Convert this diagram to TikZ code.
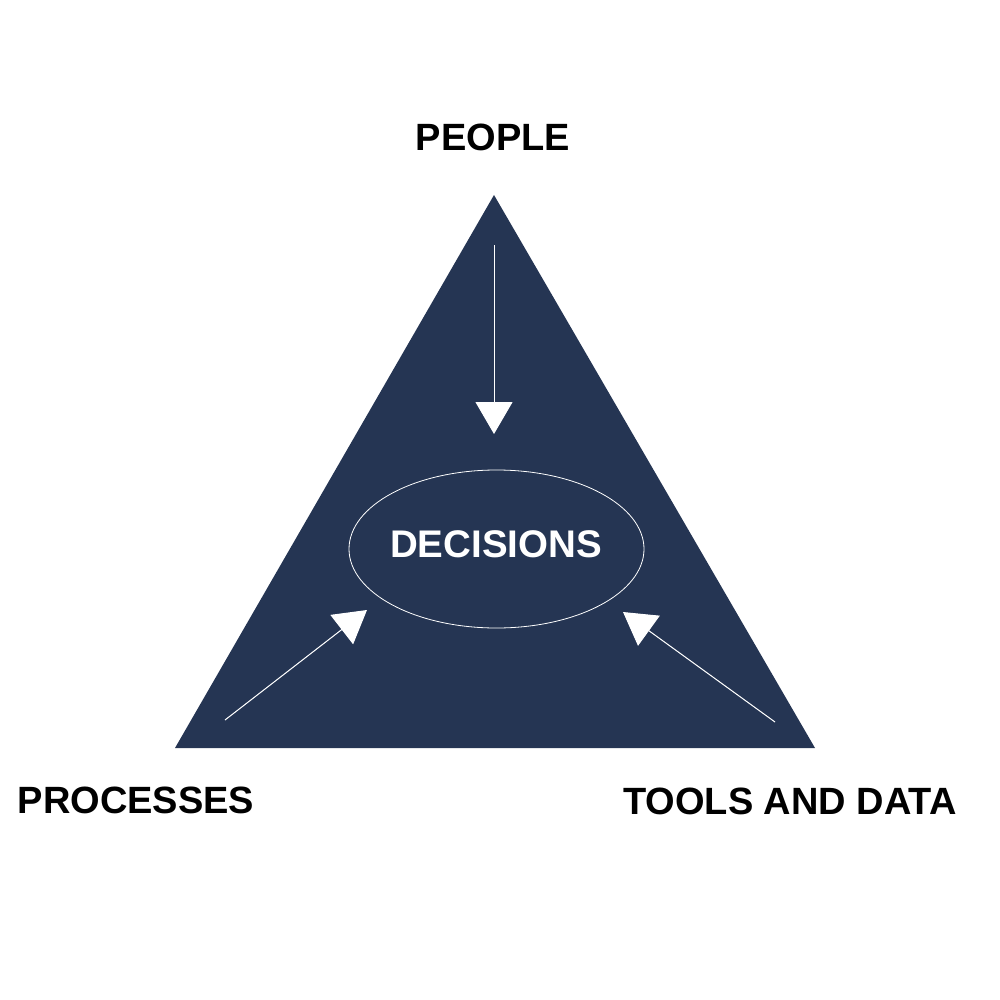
\documentclass[tikz,border=0pt]{standalone}
\usepackage{fontspec}
\setmainfont{Liberation Sans}
\usetikzlibrary{arrows.meta,shapes.geometric}
\definecolor{navy}{HTML}{253553}
\tikzset{
  lbl/.style={font=\fontsize{38}{40}\selectfont\bfseries, text=black, inner sep=0pt},
  flow/.style={draw=white, line width=1pt, -{Triangle[width=37pt,length=32pt]}, fill=white}
}
\begin{document}
\begin{tikzpicture}[x=1pt,y=-1pt]
\useasboundingbox (0,0) rectangle (1000,1000);
\coordinate (apex) at (494,195);
\coordinate (bl) at (175,748);
\coordinate (br) at (815,748);
\fill[navy] (apex) -- (br) -- (bl) -- cycle;
\node[ellipse, draw=white, line width=0.8pt, minimum width=295pt, minimum height=158pt, inner sep=0pt] (dec) at (496.5,549) {};
\node[lbl, text=white, font=\fontsize{38.5}{40}\selectfont\bfseries] (dect) at (496,544) {DECISIONS};
\node[lbl] (people) at (493,137) {PEOPLE};
\node[lbl] (proc) at (136,800) {PROCESSES};
\node[lbl] (tools) at (790,801) {TOOLS AND DATA};
\coordinate (s1) at (494,245);
\coordinate (t1) at (494,434);
\coordinate (s2) at (225,720);
\coordinate (t2) at (367,610);
\coordinate (s3) at (775,722);
\coordinate (t3) at (623,612);
\draw[flow] (s1) -- (t1);
\draw[flow] (s2) -- (t2);
\draw[flow] (s3) -- (t3);
\end{tikzpicture}
\end{document}
